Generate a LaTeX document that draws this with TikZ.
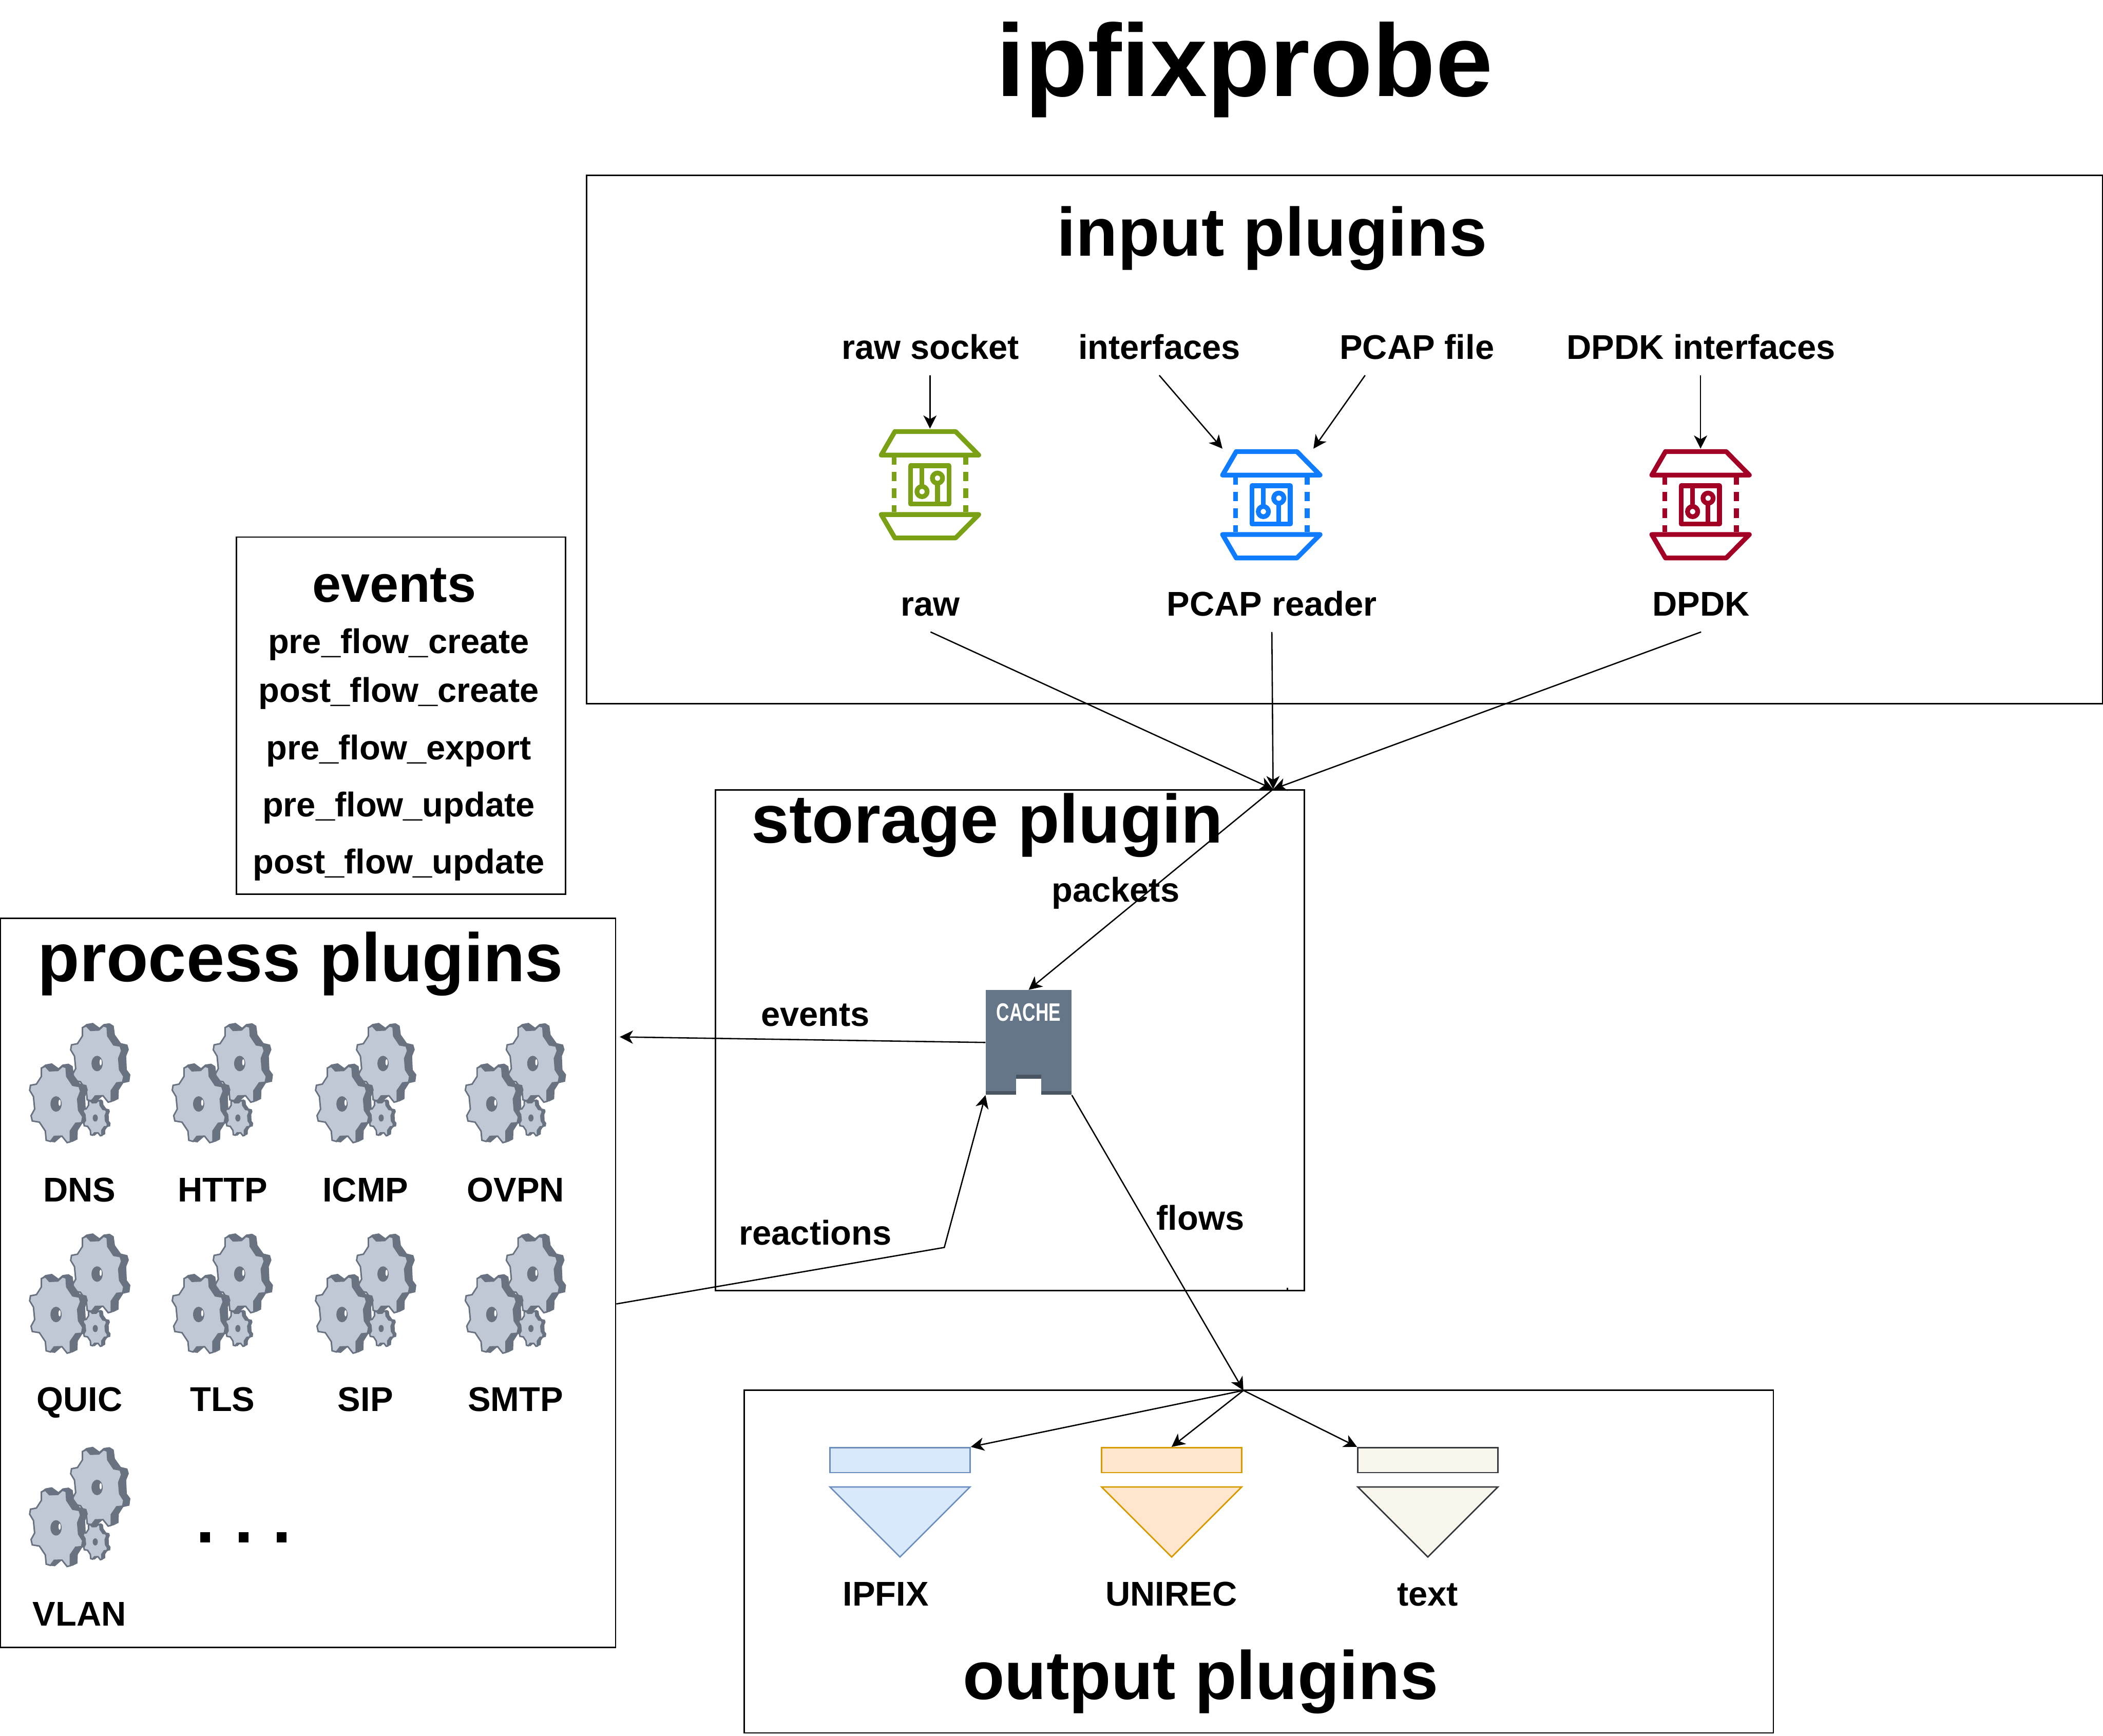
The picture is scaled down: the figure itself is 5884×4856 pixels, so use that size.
\documentclass[tikz,border=0pt]{standalone}
\usepackage{fontspec}
\setmainfont{Liberation Sans}
\usetikzlibrary{arrows.meta}
\definecolor{gface}{HTML}{C0C8D6}
\definecolor{gdark}{HTML}{697280}
\definecolor{cachec}{HTML}{647687}
\definecolor{cached}{HTML}{4A5562}
\definecolor{igreen}{HTML}{7AA116}
\definecolor{iblue}{HTML}{0F7BFF}
\definecolor{ired}{HTML}{A20025}
\definecolor{bluel}{RGB}{108,142,191}
\definecolor{bluef}{RGB}{218,232,252}
\definecolor{orgl}{RGB}{215,155,0}
\definecolor{orgf}{RGB}{255,230,204}
\definecolor{grayl}{RGB}{54,57,61}
\definecolor{grayf}{RGB}{249,247,237}
\def\gearface{(438,352) -- (445,310) -- (495,300) -- (537,235) -- (537,165) -- (570,150) -- (605,188) -- (675,185) -- (713,150) -- (745,160) -- (750,235) -- (800,310) -- (855,320) -- (867,360) -- (842,425) -- (850,520) -- (885,575) -- (875,625) -- (825,630) -- (780,695) -- (780,785) -- (753,792) -- (710,738) -- (645,740) -- (613,782) -- (577,772) -- (570,695) -- (520,620) -- (460,610) -- (450,565) -- (480,510) -- (470,405) -- cycle}
\def\gearback{(438,352) -- (445,310) -- (495,300) -- (537,235) -- (537,160) -- (570,135) -- (625,125) -- (680,165) -- (715,135) -- (765,128) -- (800,150) -- (810,225) -- (860,295) -- (915,308) -- (927,350) -- (905,405) -- (910,520) -- (940,560) -- (932,620) -- (880,632) -- (843,690) -- (840,765) -- (800,785) -- (753,795) -- (710,738) -- (650,790) -- (610,785) -- (577,772) -- (570,695) -- (520,620) -- (460,610) -- (450,565) -- (480,510) -- (470,405) -- cycle}
\newcommand{\onegear}{%
  \fill[gdark] \gearback;
  \filldraw[fill=gface,draw=gdark,line width=1.2pt] \gearface;
  \fill[gdark] (660,467) ellipse [x radius=47,y radius=65];
}
\tikzset{
  x=0.01cm,y=-0.01cm,
  txt/.style={font=\fontsize{#1}{#1}\selectfont\bfseries,text height=#1*0.8pt,text depth=#1*0.2pt,inner sep=0pt,outer sep=0pt,align=center},
  lbl/.style={txt=27.3,xshift=0.015cm,yshift=-0.04cm},
  srclbl/.style={lbl,minimum height=1.48cm},
  sect/.style={txt=54.5,yshift=-0.05cm},
  pluginbox/.style={draw=black,line width=1.1pt,fill=none},
  outbar/.style={line width=1.14pt,minimum width=3.92cm,minimum height=0.70cm,inner sep=0pt},
  outtri/.style={line width=1.14pt,line join=miter},
  arr/.style={draw=black,line width=1.05pt,-{Stealth[length=10.5pt,width=10.5pt,inset=3pt]}},
  pics/gears/.style={code={
    \begin{scope}[x=0.00333cm,y=-0.00333cm]
      \onegear
      \fill[white] (690,457) ellipse [x radius=9,y radius=27];
      \begin{scope}[shift={(-345,340)}]
        \onegear
        \fill[white] (690,457) ellipse [x radius=9,y radius=27];
      \end{scope}
      \begin{scope}[shift={(341,710)},scale=0.46]
        \onegear
      \end{scope}
    \end{scope}
  }},
  pics/chip/.style={code={
    \begin{scope}[x=0.00333cm,y=-0.00333cm,shift={(-605,-617)},draw=#1,line width=3.79pt,line join=round]
      \draw (195,368) -- (310,170) -- (820,170) -- (1015,368) -- cycle;
      \draw (195,868) -- (310,1065) -- (820,1065) -- (1015,868) -- cycle;
      \foreach \dx in {304,906}{
        \draw (\dx,388) -- (\dx,447);
        \draw (\dx,510) -- (\dx,588);
        \draw (\dx,648) -- (\dx,730);
        \draw (\dx,788) -- (\dx,848);
      }
      \draw (442,458) rectangle (764,780);
      \draw (538,458) -- (538,632);
      \draw (538,675) circle [radius=43];
      \draw (668,780) -- (668,605);
      \draw (668,562) circle [radius=43];
    \end{scope}
  }}
}
\begin{document}
\begin{tikzpicture}
\useasboundingbox (0,0) rectangle (5884,4856);
\fill[white] (0,0) rectangle (5884,4856);

% boxes
\node[pluginbox,minimum width=42.40cm,minimum height=14.77cm,inner sep=0pt] (inputbox) at (3762,1229.5) {};
\node[pluginbox,minimum width=9.20cm,minimum height=9.98cm,inner sep=0pt] (eventbox) at (1122,2002) {};
\node[pluginbox,minimum width=17.20cm,minimum height=20.38cm,inner sep=0pt] (procbox) at (862,3589) {};
\node[pluginbox,minimum width=16.46cm,minimum height=14.00cm,inner sep=0pt] (storebox) at (2825.5,2910) {};
\node[pluginbox,minimum width=28.78cm,minimum height=9.58cm,inner sep=0pt] (outbox) at (3522,4369) {};
\draw[line width=1.1pt,line cap=butt] (3602,3610) -- (3602,3603);

% titles
\node[txt=81.7,yshift=-0.07cm] (title) at (3482,176) {ipfixprobe};
\node[sect] (tinput) at (3559,653) {input plugins};
\node[sect] (tproc) at (841,2683) {process plugins};
\node[sect] (tstore) at (2762,2295) {storage plugin};
\node[sect] (tout) at (3359,4691) {output plugins};

% events list
\node[txt=41.2,yshift=-0.05cm] (tevents) at (1103,1636) {events};
\node[lbl] (e1) at (1114,1795) {pre\_flow\_create};
\node[lbl] (e2) at (1114,1931) {post\_flow\_create};
\node[lbl] (e3) at (1114,2092) {pre\_flow\_export};
\node[lbl] (e4) at (1114,2252) {pre\_flow\_update};
\node[lbl] (e5) at (1114,2411) {post\_flow\_update};

% input labels
\node[srclbl] (lsock) at (2602,972) {raw socket};
\node[srclbl] (lif) at (3242,972) {interfaces};
\node[srclbl] (lpcapf) at (3963,972) {PCAP file};
\node[srclbl] (ldpdki) at (4758,972) {DPDK interfaces};
\node[srclbl] (lraw) at (2602,1690) {raw};
\node[srclbl] (lpcap) at (3557,1690) {PCAP reader};
\node[srclbl] (ldpdk) at (4758,1690) {DPDK};

% chips
\node[minimum width=2.88cm,minimum height=3.12cm,inner sep=0pt] (iraw) at (2602,1356) {};
\node[minimum width=2.88cm,minimum height=3.12cm,inner sep=0pt] (ipcap) at (3557,1412) {};
\node[minimum width=2.88cm,minimum height=3.12cm,inner sep=0pt] (idpdk) at (4758,1412) {};
\pic at (iraw) {chip=igreen};
\pic at (ipcap) {chip=iblue};
\pic at (idpdk) {chip=ired};

% gears
\foreach \gx/\gy in {52/2820,451/2820,852/2820,1271/2820,52/3409,451/3409,852/3409,1271/3409,52/4006}{
  \pic at (\gx,\gy) {gears};
}
\node[lbl] (gdns) at (221,3329) {DNS};
\node[lbl] (ghttp) at (621,3329) {HTTP};
\node[lbl] (gicmp) at (1021,3329) {ICMP};
\node[lbl] (govpn) at (1441,3329) {OVPN};
\node[lbl] (gquic) at (221,3916) {QUIC};
\node[lbl] (gtls) at (621,3916) {TLS};
\node[lbl] (gsip) at (1021,3916) {SIP};
\node[lbl] (gsmtp) at (1441,3916) {SMTP};
\node[lbl] (gvlan) at (221,4516) {VLAN};
\node[txt=54.7] (gdots) at (682,4258) {\frenchspacing . . .};

% cache
\node[fill=cachec,minimum width=2.40cm,minimum height=2.93cm,inner sep=0pt] (cache) at (2878,2916.5) {};
\fill[cached] (2758,3053) rectangle (2998,3063);
\fill[white] (2843,3018) rectangle (2913,3064);
\fill[cached] (2843,3007) rectangle (2913,3018);
\node[text=white,font=\fontsize{20}{20}\selectfont\bfseries,xscale=0.72,inner sep=0pt] (cachetxt) at (2878,2832) {CACHE};

% output shapes
\node[outbar,draw=bluel,fill=bluef] (bipfix) at (2518,4085) {};
\node[outbar,draw=orgl,fill=orgf] (buni) at (3278,4085) {};
\node[outbar,draw=grayl,fill=grayf] (btext) at (3995,4085) {};
\filldraw[outtri,draw=bluel,fill=bluef] (2322,4160) -- (2714,4160) -- (2518,4356) -- cycle;
\filldraw[outtri,draw=orgl,fill=orgf] (3082,4160) -- (3474,4160) -- (3278,4356) -- cycle;
\filldraw[outtri,draw=grayl,fill=grayf] (3799,4160) -- (4191,4160) -- (3995,4356) -- cycle;
\node[lbl] (lipfix) at (2477,4460) {IPFIX};
\node[lbl] (luni) at (3276,4460) {UNIREC};
\node[lbl] (ltext) at (3993,4460) {text};

% edge labels
\node[lbl] (lpackets) at (3120,2490) {packets};
\node[lbl] (levents) at (2280,2838) {events};
\node[lbl] (lreact) at (2280,3450) {reactions};
\node[lbl] (lflows) at (3357,3409) {flows};

% junctions
\coordinate (hub) at (3562,2208);
\coordinate (outhub) at (3479,3890);
\coordinate (evend) at (1734,2901);
\coordinate (bend) at (2642,3490);

% connectors
\draw[arr] (lsock.south -| iraw.north) -- (iraw.north);
\draw[arr] (lif.south) -- ([xshift=0.08cm]ipcap.north west);
\draw[arr] ([xshift=-1.45cm]lpcapf.south) -- ([xshift=-0.27cm]ipcap.north east);
\draw[arr] (ldpdki.south -| idpdk.north) -- (idpdk.north);
\draw[arr] (lraw.south) -- (hub);
\draw[arr] (lpcap.south) -- (hub);
\draw[arr] (ldpdk.south) -- (hub);
\draw[arr] (hub) -- (cache.north);
\draw[arr] (cache.west) -- (evend);
\draw[arr] ([yshift=-0.59cm]procbox.east) -- (bend) -- (cache.south west);
\draw[arr] (cache.south east) -- (outhub);
\draw[arr] (outhub) -- (bipfix.north east);
\draw[arr] (outhub) -- (buni.north);
\draw[arr] (outhub) -- (btext.north west);
\end{tikzpicture}
\end{document}
